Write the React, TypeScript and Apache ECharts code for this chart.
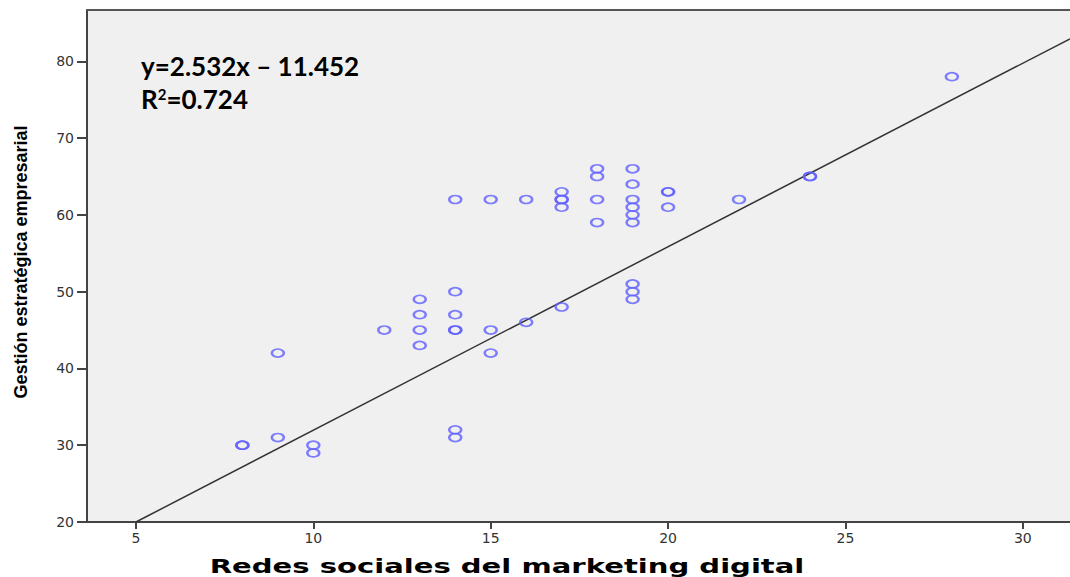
import React, { useEffect, useRef } from "react";
import * as echarts from "echarts";

const xValues = [8, 8, 9, 9, 10, 10, 12, 13, 13, 13, 13, 14, 14, 14, 14, 14, 14, 14, 15, 15, 15, 16, 16, 17, 17, 17, 17, 17, 18, 18, 18, 18, 19, 19, 19, 19, 19, 19, 19, 19, 19, 20, 20, 20, 22, 24, 24, 28];
const yValues = [30, 30, 31, 42, 30, 29, 45, 49, 47, 45, 43, 62, 50, 47, 45, 45, 32, 31, 62, 45, 42, 62, 46, 63, 62, 62, 61, 48, 66, 65, 62, 59, 66, 64, 62, 61, 60, 59, 51, 50, 49, 63, 63, 61, 62, 65, 65, 78];
const xTicks = [5, 10, 15, 20, 25, 30];
const yTicks = [20, 30, 40, 50, 60, 70, 80];
const fitSlope = 2.39;
const fitIntercept = 8.05;
const xMin = 3.62;
const xMax = 31.33;
const yMin = 20;
const yMax = 86.68;
const xTitle = "Redes sociales del marketing digital";
const yTitle = "Gestión estratégica empresarial";
const equationText = "y=2.532x – 11.452";
const r2Label = "0.724";

export default function App() {
  const ref = useRef<HTMLDivElement>(null);
  useEffect(() => {
    if (!ref.current) return;
    const chart = echarts.init(ref.current, null, { renderer: "svg" });
    const points = xValues.map((x, i) => [x, yValues[i]]);
    const lineStartX = (yMin - fitIntercept) / fitSlope;
    const fitLine = [
      [lineStartX, fitSlope * lineStartX + fitIntercept],
      [xMax, fitSlope * xMax + fitIntercept],
    ];
    chart.setOption({
      animation: false,
      backgroundColor: "#ffffff",
      grid: {
        left: 87,
        top: 10,
        right: 0,
        bottom: 55,
        show: true,
        backgroundColor: "#f0f0f0",
        borderWidth: 0,
      },
      xAxis: [
        {
          type: "value",
          min: xMin,
          max: xMax,
          splitLine: { show: false },
          axisLine: { show: true, lineStyle: { color: "#444", width: 2 } },
          axisTick: {
            show: true,
            length: 7,
            customValues: xTicks,
            lineStyle: { color: "#444", width: 2 },
          },
          axisLabel: {
            customValues: xTicks,
            color: "#333",
            fontFamily: "DejaVu Sans",
            fontSize: 14,
            margin: 9,
          },
        },
        {
          type: "value",
          position: "top",
          min: xMin,
          max: xMax,
          splitLine: { show: false },
          axisLine: { show: true, onZero: false, lineStyle: { color: "#555", width: 2 } },
          axisTick: { show: false },
          axisLabel: { show: false },
        },
      ],
      yAxis: {
        type: "value",
        min: yMin,
        max: yMax,
        splitLine: { show: false },
        axisLine: { show: true, lineStyle: { color: "#444", width: 2 } },
        axisTick: {
          show: true,
          length: 10,
          customValues: yTicks,
          lineStyle: { color: "#444", width: 2 },
        },
        axisLabel: {
          customValues: yTicks,
          color: "#333",
          fontFamily: "DejaVu Sans",
          fontSize: 14,
          margin: 13,
        },
      },
      series: [
        {
          type: "line",
          data: fitLine,
          symbol: "none",
          lineStyle: { color: "#333", width: 1.5 },
          silent: true,
          z: 2,
        },
        {
          type: "scatter",
          data: points,
          symbol: "circle",
          symbolSize: [12, 8],
          itemStyle: {
            color: "rgba(0,0,0,0)",
            borderColor: "#5f5fff",
            borderWidth: 2,
          },
          z: 3,
        },
      ],
      graphic: [
        {
          type: "text",
          left: 141,
          top: 53,
          style: {
            text: equationText,
            font: "bold 26px Lato",
            fill: "#000",
          },
        },
        {
          type: "text",
          left: 141,
          top: 86,
          style: {
            text: "R{sup|2}=" + r2Label,
            font: "bold 26px Lato",
            fill: "#000",
            rich: {
              sup: { font: "bold 15px Lato", fill: "#000", verticalAlign: "top", padding: [0, 0, 11, 0] },
            },
          },
        },
        {
          type: "text",
          x: 507,
          y: 566,
          scaleX: 1.53,
          style: {
            text: xTitle,
            font: "bold 19px 'DejaVu Sans'",
            fill: "#000",
            align: "center",
            verticalAlign: "middle",
          },
        },
        {
          type: "text",
          x: 21,
          y: 262,
          rotation: Math.PI / 2,
          style: {
            text: yTitle,
            font: "bold 18px 'Liberation Sans Narrow', 'Liberation Sans'",
            fill: "#000",
            align: "center",
            verticalAlign: "middle",
          },
        },
      ],
    });
    return () => chart.dispose();
  }, []);
  return (
    <div
      ref={ref}
      style={{ position: "absolute", left: 0, top: 0, width: 1070, height: 577 }}
    />
  );
}
